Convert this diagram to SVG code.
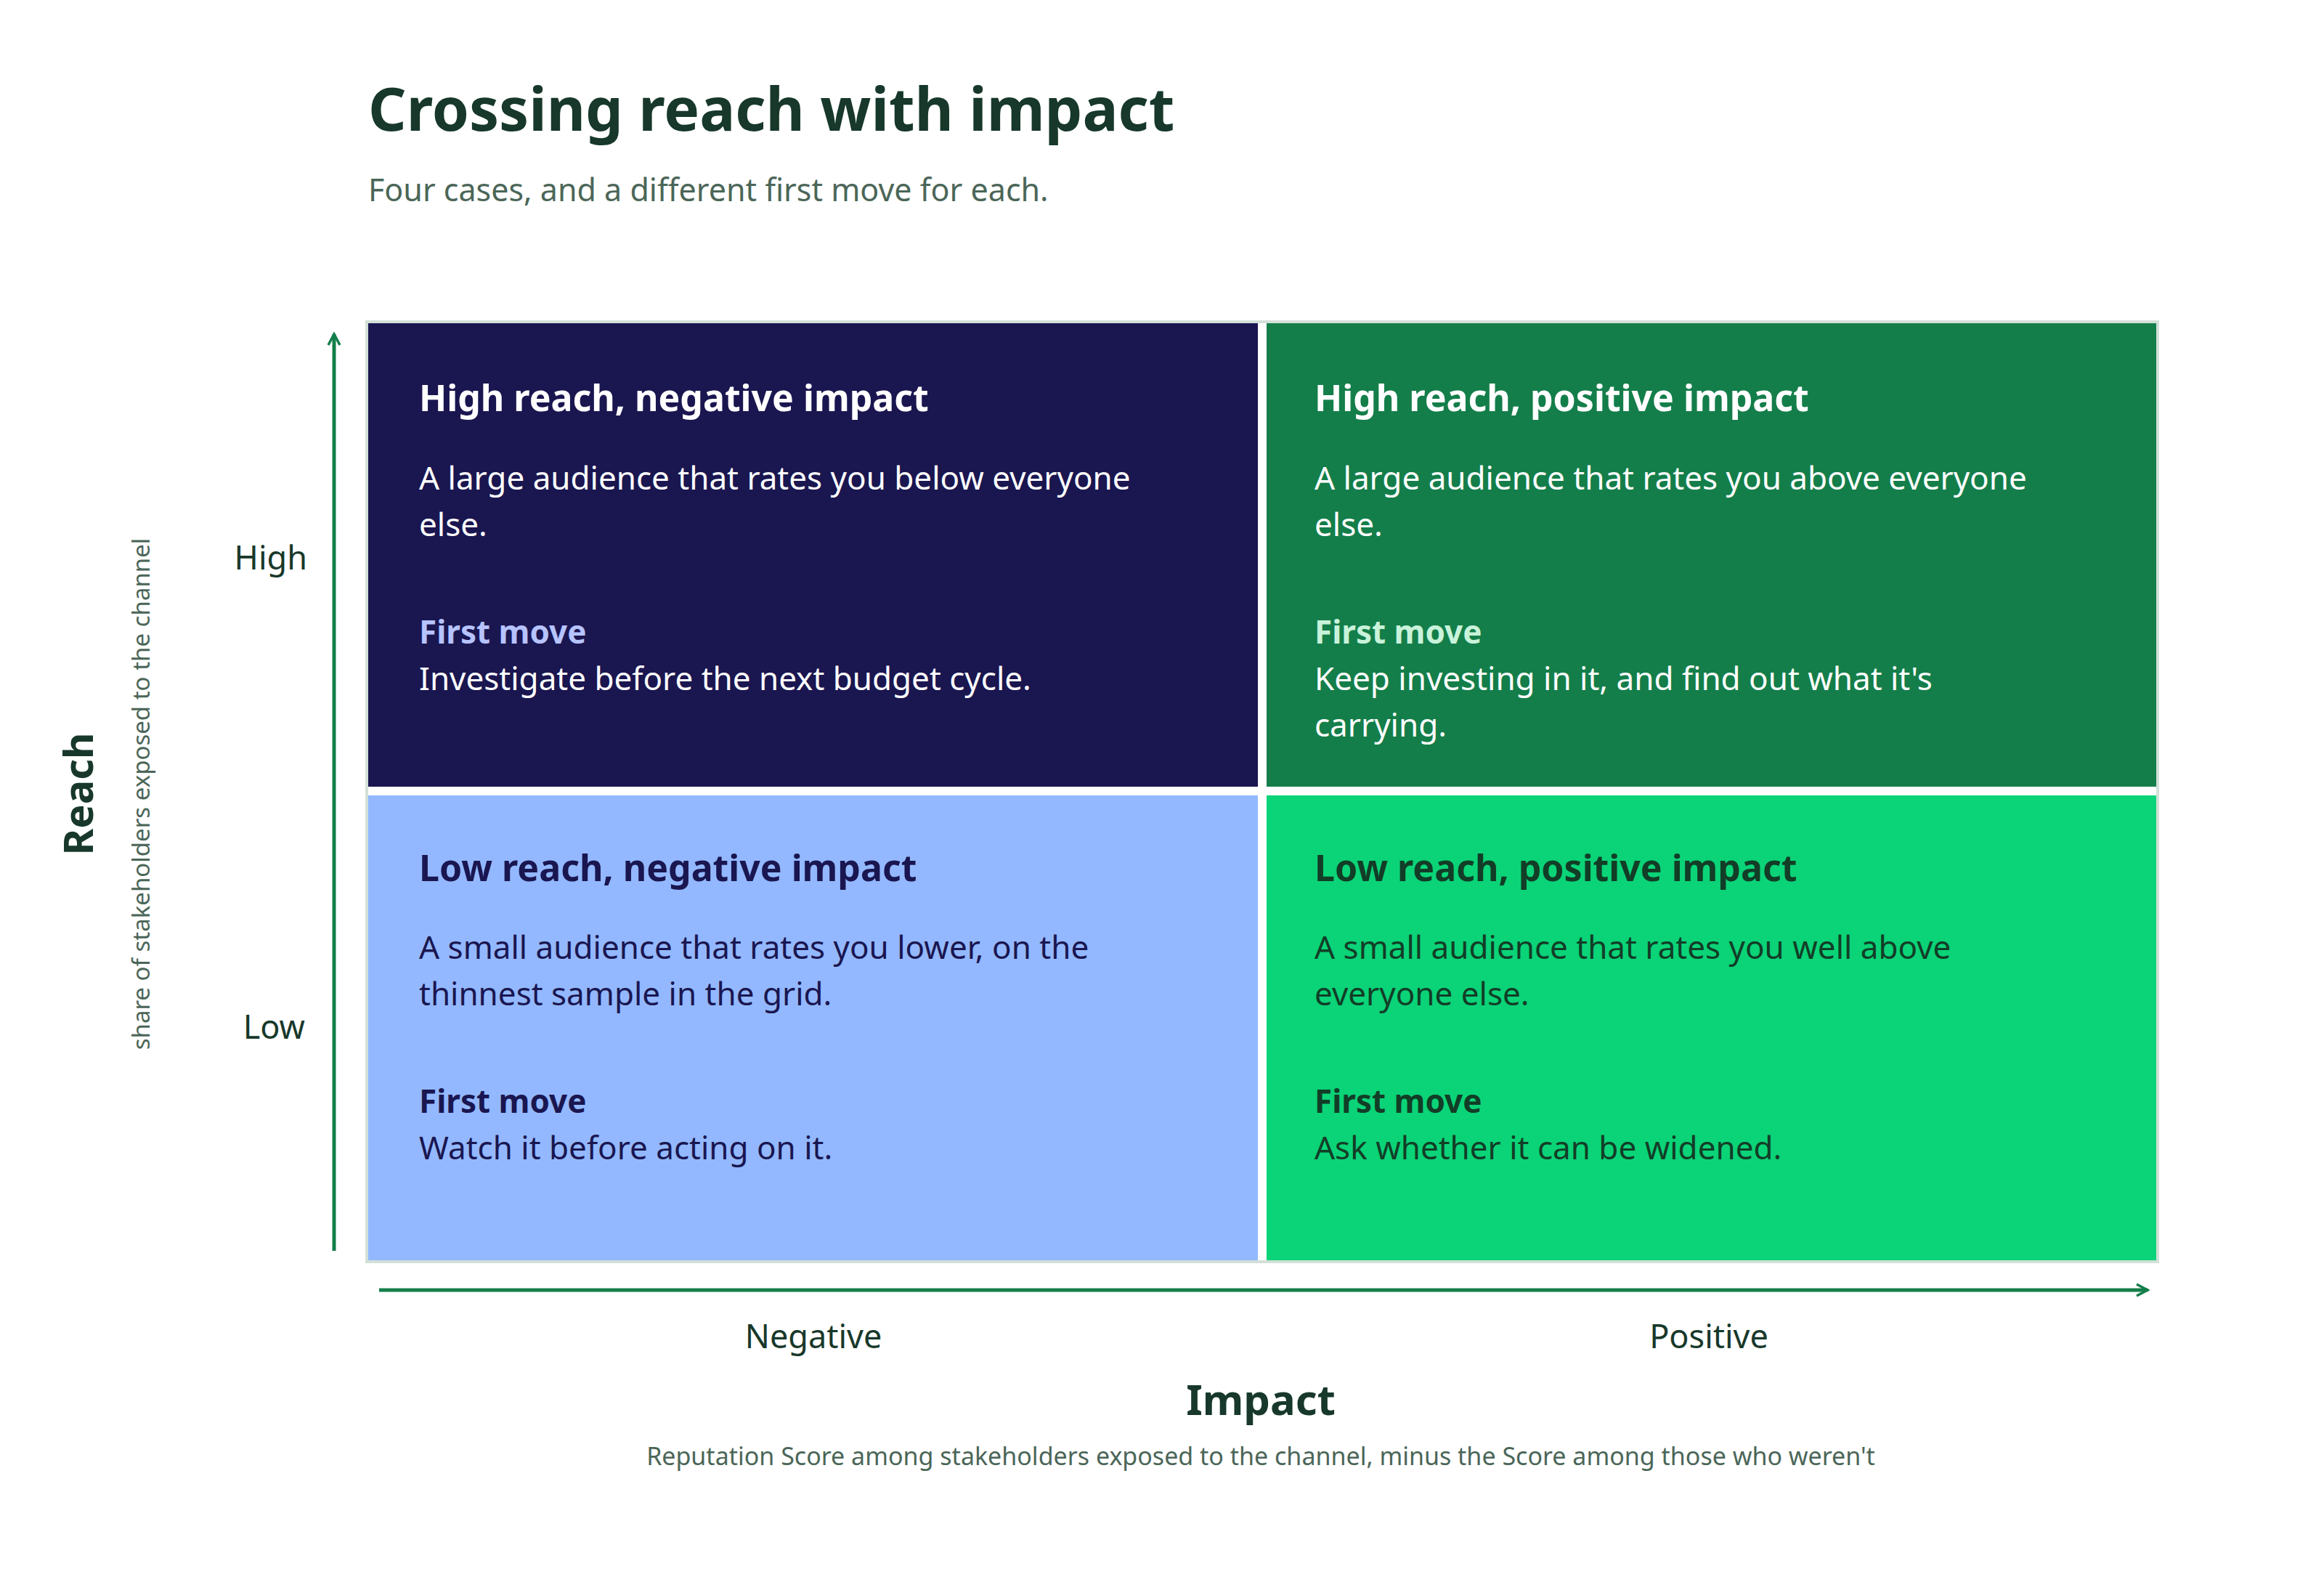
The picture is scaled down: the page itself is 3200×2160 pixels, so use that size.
<svg xmlns="http://www.w3.org/2000/svg" width="3200" height="2160" viewBox="0 0 3200 2160">
<style>
text{font-family:"Noto Sans","Liberation Sans",sans-serif}
.h{font-size:50px;font-weight:700}
.b{font-size:44px}
.fm{font-size:44px;font-weight:700}
.ax{font-size:45px;fill:#17382a}
.ink{fill:#17382a}
.mut{fill:#4b6658}
</style>
<defs>
<marker id="ar" viewBox="0 0 20 20" refX="17" refY="10" markerWidth="20" markerHeight="20" markerUnits="userSpaceOnUse" orient="auto"><path d="M2,2 L17,10 L2,18" fill="none" stroke="#147e4a" stroke-width="3.5"/></marker>
</defs>
<rect width="3200" height="2160" fill="#fff"/>
<text x="507" y="180" font-size="82" font-weight="700" class="ink">Crossing reach with impact</text>
<text x="507" y="277" font-size="43" class="mut">Four cases, and a different first move for each.</text>
<rect x="505" y="443" width="2466" height="1294" fill="#fff" stroke="#d3e0d8" stroke-width="4"/>
<g id="tl"><rect x="507" y="445" width="1225" height="638" fill="#1a1650"/>
<text x="577" y="566" class="h" fill="#fff">High reach, negative impact</text>
<text x="577" y="674" class="b" fill="#fff">A large audience that rates you below everyone</text>
<text x="577" y="738" class="b" fill="#fff">else.</text>
<text x="577" y="886" class="fm" fill="#b6c3ff">First move</text>
<text x="577" y="950" class="b" fill="#fff">Investigate before the next budget cycle.</text></g>
<g id="tr"><rect x="1744" y="445" width="1225" height="638" fill="#147e4a"/>
<text x="1810" y="566" class="h" fill="#fff">High reach, positive impact</text>
<text x="1810" y="674" class="b" fill="#fff">A large audience that rates you above everyone</text>
<text x="1810" y="738" class="b" fill="#fff">else.</text>
<text x="1810" y="886" class="fm" fill="#c9f2da">First move</text>
<text x="1810" y="950" class="b" fill="#fff">Keep investing in it, and find out what it's</text>
<text x="1810" y="1014" class="b" fill="#fff">carrying.</text></g>
<g id="bl"><rect x="507" y="1095" width="1225" height="640" fill="#93b8ff"/>
<text x="577" y="1213" class="h" fill="#1a1650">Low reach, negative impact</text>
<text x="577" y="1320" class="b" fill="#1a1650">A small audience that rates you lower, on the</text>
<text x="577" y="1384" class="b" fill="#1a1650">thinnest sample in the grid.</text>
<text x="577" y="1532" class="fm" fill="#1a1650">First move</text>
<text x="577" y="1596" class="b" fill="#1a1650">Watch it before acting on it.</text></g>
<g id="br"><rect x="1744" y="1095" width="1225" height="640" fill="#0bd377"/>
<text x="1810" y="1213" class="h" fill="#123d27">Low reach, positive impact</text>
<text x="1810" y="1320" class="b" fill="#123d27">A small audience that rates you well above</text>
<text x="1810" y="1384" class="b" fill="#123d27">everyone else.</text>
<text x="1810" y="1532" class="fm" fill="#123d27">First move</text>
<text x="1810" y="1596" class="b" fill="#123d27">Ask whether it can be widened.</text></g>
<g id="connectors" stroke="#147e4a" stroke-width="5" fill="none">
<line x1="460" y1="1722" x2="460" y2="460" marker-end="url(#ar)"/>
<line x1="522" y1="1776" x2="2957" y2="1776" marker-end="url(#ar)"/>
</g>
<text x="423" y="784" class="ax" text-anchor="end">High</text>
<text x="420" y="1430" class="ax" text-anchor="end">Low</text>
<text transform="translate(128,1093) rotate(-90)" text-anchor="middle" font-size="56" font-weight="700" class="ink">Reach</text>
<text transform="translate(206,1093) rotate(-90)" text-anchor="middle" font-size="33" class="mut">share of stakeholders exposed to the channel</text>
<text x="1120" y="1856" class="ax" text-anchor="middle">Negative</text>
<text x="2353" y="1856" class="ax" text-anchor="middle">Positive</text>
<text x="1736" y="1948" text-anchor="middle" font-size="58" font-weight="700" class="ink">Impact</text>
<text x="1736" y="2017" text-anchor="middle" font-size="34" class="mut">Reputation Score among stakeholders exposed to the channel, minus the Score among those who weren't</text>
</svg>
